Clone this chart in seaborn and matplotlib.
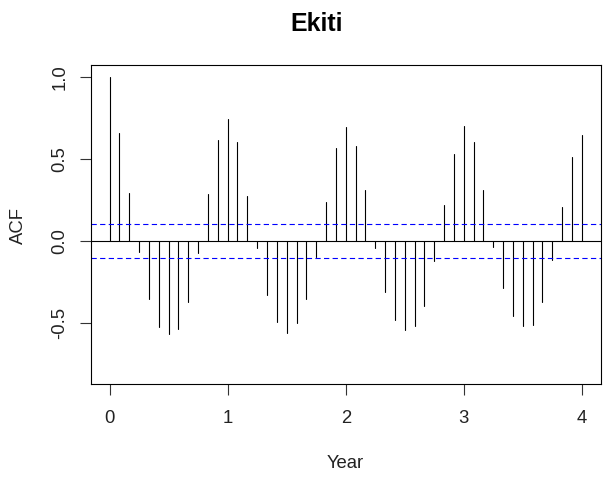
import numpy as np
import pandas as pd
import matplotlib
matplotlib.use("Agg")
import matplotlib.pyplot as plt
import seaborn as sns

# Monthly autocorrelations, lags 0..48 (4 years at frequency 12)
lags = list(range(49))
acf_values = [
    1.000, 0.660, 0.297, -0.067, -0.352, -0.527, -0.570, -0.534, -0.375, -0.073,
    0.289, 0.619, 0.745, 0.605, 0.277, -0.045, -0.332, -0.493, -0.562, -0.501,
    -0.352, -0.100, 0.240, 0.568, 0.695, 0.582, 0.310, -0.045, -0.312, -0.479,
    -0.542, -0.521, -0.395, -0.122, 0.220, 0.534, 0.703, 0.605, 0.312, -0.033,
    -0.289, -0.458, -0.521, -0.513, -0.375, -0.116, 0.208, 0.513, 0.646,
]
frequency = 12
conf_bound = 0.106

x_ticks = [0, 1, 2, 3, 4]
y_ticks = [-0.5, 0.0, 0.5, 1.0]
y_tick_labels = ["-0.5", "0.0", "0.5", "1.0"]

sns.set_theme(style="white")
plt.rcParams["font.family"] = ["Liberation Sans", "DejaVu Sans"]
plt.rcParams["lines.scale_dashes"] = False

# Each lag becomes a vertical spike from 0 up (or down) to its ACF value
year = np.array(lags) / frequency
spikes = pd.DataFrame({
    "lag": np.repeat(lags, 2),
    "Year": np.repeat(year, 2),
    "ACF": np.ravel(np.column_stack([np.zeros(len(acf_values)), acf_values])),
})

fig = plt.figure(figsize=(6.04, 4.78), dpi=100)
ax = fig.add_axes([90.7 / 604, 1 - 384 / 478, (600.7 - 90.7) / 604, (384 - 65) / 478])

sns.lineplot(data=spikes, x="Year", y="ACF", units="lag", estimator=None,
             color="black", linewidth=0.8, ax=ax, legend=False)

ax.axhline(0, color="black", linewidth=0.8)
for b in (conf_bound, -conf_bound):
    ax.axhline(b, color="#0000FF", linewidth=0.8, linestyle=(0, (3.8, 2.4)))

ax.set_xlim(-0.16, 4.16)
ax.set_ylim(-0.873, 1.076)
ax.set_xticks(x_ticks)
ax.set_xticklabels([str(t) for t in x_ticks])
ax.set_yticks(y_ticks)
ax.set_yticklabels(y_tick_labels, rotation=90, va="center", ha="right")
ax.set_xlabel("")
ax.set_ylabel("")

for s in ax.spines.values():
    s.set_visible(True)
    s.set_color("black")
    s.set_linewidth(0.8)

ax.tick_params(axis="both", which="major", direction="out", length=7.9, width=0.8,
               color="#333333", labelsize=13.3, labelcolor="#222222")
ax.tick_params(axis="x", pad=11)
ax.tick_params(axis="y", pad=8)
ax.tick_params(bottom=True, left=True, top=False, right=False)

fig.text(316.5 / 604, 1 - 31 / 478, "Ekiti", ha="center", va="baseline",
         fontsize=18, fontweight="bold", color="black")
fig.text(345 / 604, 1 - 468.3 / 478, "Year", ha="center", va="baseline",
         fontsize=13.3, color="#222222")
fig.text(18 / 604, 1 - 225 / 478, "ACF", ha="center", va="center",
         rotation=90, fontsize=13.3, color="#222222")

fig.savefig("out.png", dpi=100, facecolor="white")
